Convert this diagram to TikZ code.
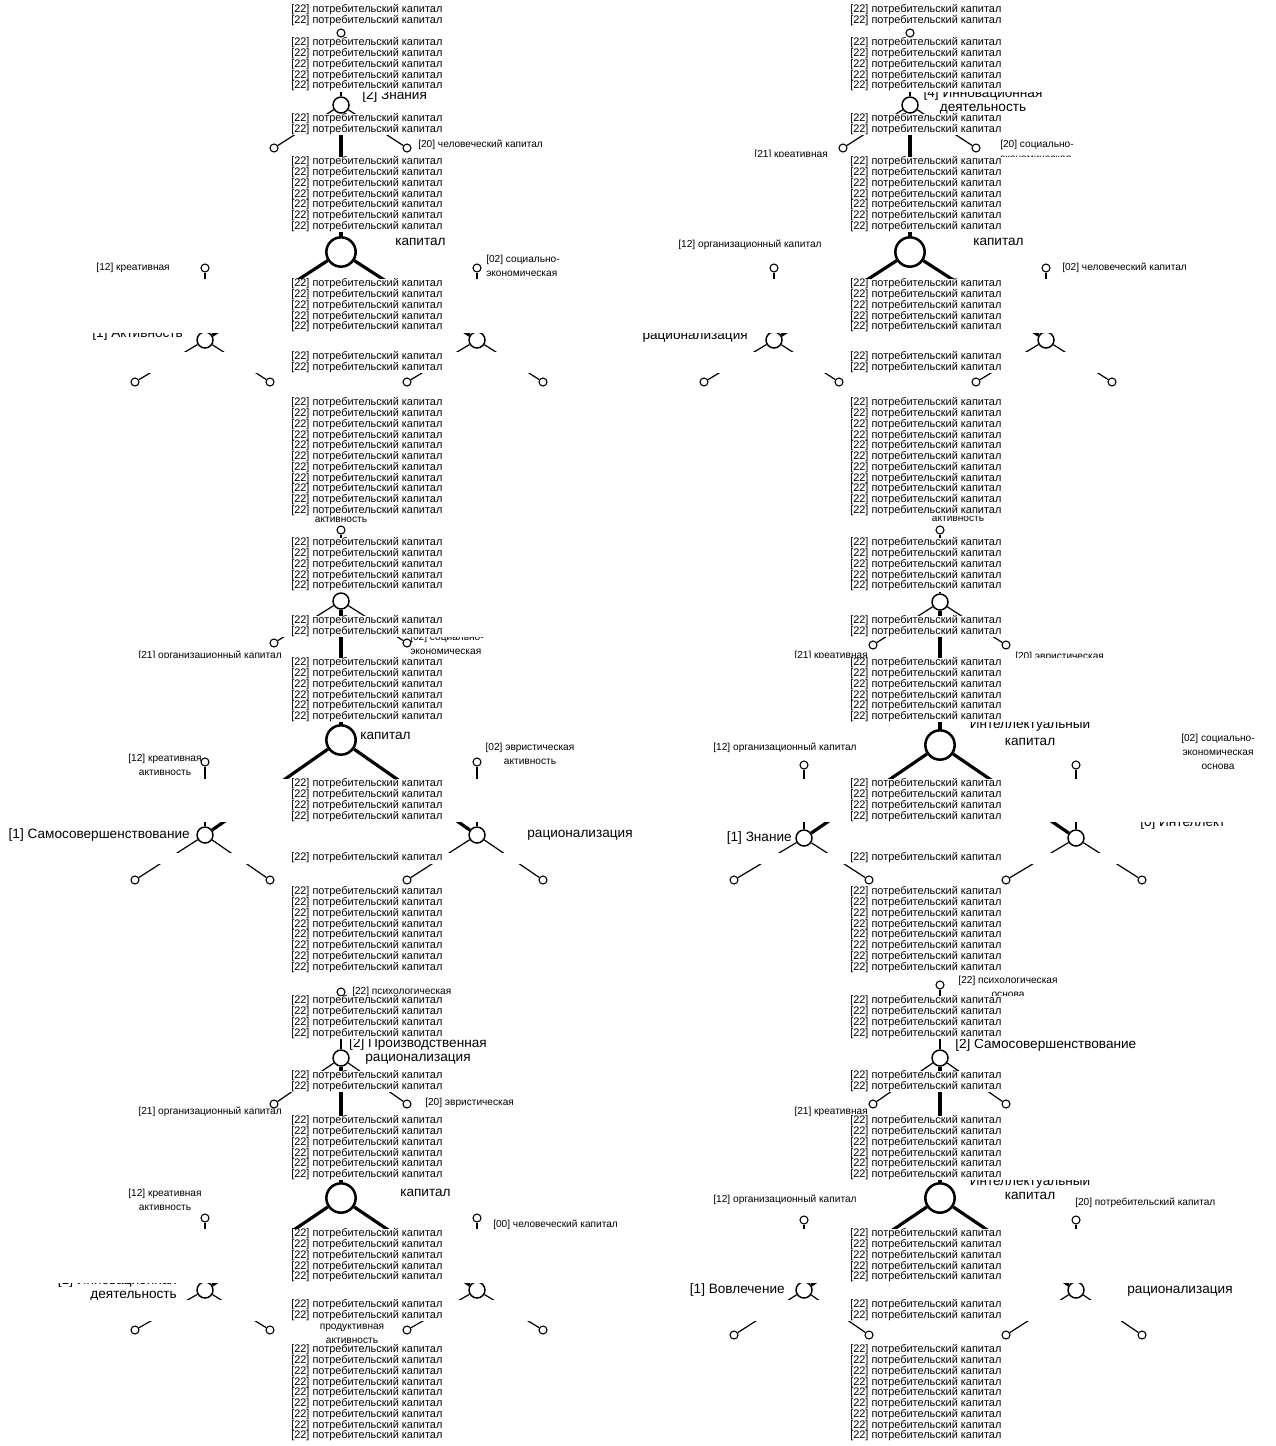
\documentclass[tikz,border=0pt]{standalone}
\usepackage{fontspec}
\setmainfont{Liberation Sans}
\newcommand\Lk{[22] потребительский капитал}
\tikzset{
 leafc/.style={circle,draw,fill=white,line width=0.8pt,minimum size=6pt,inner sep=0pt},
 midc/.style={circle,draw,fill=white,line width=1.1pt,minimum size=12pt,inner sep=0pt},
 bigc/.style={circle,draw,fill=white,line width=1.9pt,minimum size=22pt,inner sep=0pt},
 thinl/.style={line width=0.9pt},
 thickl/.style={line width=2.4pt},
 stk/.style={anchor=west,inner sep=0pt,font=\fontsize{8.2}{8}\selectfont},
 slab/.style={inner sep=0pt,font=\fontsize{7.6}{10.5}\selectfont},
 blab/.style={inner sep=0pt,font=\fontsize{10.2}{10.5}\selectfont},
 blabw/.style={inner sep=0pt,font=\fontsize{10.2}{12.8}\selectfont},
}
% #1 name, #2 cx, #3 yT, #4 yM, #5 yS, #6 yB, #7 yLol, #8 yN, #9 yLeaf
\newcommand\panel[9]{%
 \node[leafc] (#1T) at (#2,#3) {};
 \node[midc] (#1M) at (#2,#4) {};
 \node[leafc] (#1a) at ({#2-67},#5) {};
 \node[leafc] (#1b) at ({#2+66},#5) {};
 \node[bigc] (#1B) at (#2,#6) {};
 \node[leafc] (#1p) at ({#2-136},#7) {};
 \node[leafc] (#1q) at ({#2+136},#7) {};
 \node[midc] (#1N) at ({#2-136},#8) {};
 \node[midc] (#1O) at ({#2+136},#8) {};
 \node[leafc] (#1c) at ({#2-206},#9) {};
 \node[leafc] (#1d) at ({#2-71},#9) {};
 \node[leafc] (#1e) at ({#2+66},#9) {};
 \node[leafc] (#1f) at ({#2+202},#9) {};
 \draw[thinl] (#1T) -- (#1M);
 \draw[thinl] (#1M) -- (#1a);
 \draw[thinl] (#1M) -- (#1b);
 \draw[thickl] (#1M) -- (#1B);
 \draw[thickl] (#1B) -- (#1N);
 \draw[thickl] (#1B) -- (#1O);
 \draw[thinl] (#1p) -- (#1N);
 \draw[thinl] (#1q) -- (#1O);
 \draw[thinl] (#1N) -- (#1c);
 \draw[thinl] (#1N) -- (#1d);
 \draw[thinl] (#1O) -- (#1e);
 \draw[thinl] (#1O) -- (#1f);
}
\begin{document}
\begin{tikzpicture}[x=0.75pt,y=-0.75pt]
\useasboundingbox (0,0) rectangle (1276,1446);
\fill[white] (0,0) rectangle (1276,1446);
% skeletons
\panel{la}{341}{33}{105}{148}{252}{268}{340}{382}
\panel{lb}{341}{530}{601}{643}{740}{762}{835}{880}
\panel{lc}{341}{992}{1058}{1104}{1198}{1218}{1290}{1330}
\panel{ra}{910}{33}{105}{148}{252}{268}{340}{382}
\panel{rb}{940}{530}{602}{645}{745}{765}{838}{880}
\panel{rc}{940}{985}{1058}{1104}{1198}{1220}{1290}{1335}
% labels left column
\node[blab,anchor=west] (laML) at (362,96) {[2] Знания};
\node[slab,anchor=west] (labL) at (418,145) {[20] человеческий капитал};
\node[blab,anchor=west] (laBL) at (395,242) {капитал};
\node[slab,anchor=east] (lapL) at (170,268) {[12] креативная};
\node[slab,anchor=west,align=left] (laqL) at (486,266) {[02] социально-\\экономическая};
\node[blab,anchor=east] (laNL) at (183,334) {[1] Активность};
\node[slab] (lbTL) at (341,520) {активность};
\node[slab,anchor=east] (lbaL) at (282,656) {[21] организационный капитал};
\node[slab,anchor=west,align=left] (lbbL) at (410,644) {[02] социально-\\экономическая};
\node[blab,anchor=west] (lbBL) at (360,736) {капитал};
\node[slab,align=center] (lbpL) at (165,765) {[12] креативная\\активность};
\node[slab,align=center] (lbqL) at (530,754) {[02] эвристическая\\активность};
\node[blab,anchor=east] (lbNL) at (190,835) {[1] Самосовершенствование};
\node[blab] (lbOL) at (580,835) {рационализация};
\node[slab,anchor=west] (lcTL) at (352,992) {[22] психологическая};
\node[blab,align=center] (lcML) at (418,1051) {[2] Производственная\\рационализация};
\node[slab,anchor=east] (lcaL) at (282,1112) {[21] организационный капитал};
\node[slab,anchor=west] (lcbL) at (425,1103) {[20] эвристическая};
\node[blab,anchor=west] (lcBL) at (400,1193) {капитал};
\node[slab,align=center] (lcpL) at (165,1200) {[12] креативная\\активность};
\node[slab,anchor=west] (lcqL) at (493,1225) {[00] человеческий капитал};
\node[blab,anchor=east,align=right] (lcNL) at (177,1288) {[1] Инновационная\\деятельность};
\node[slab,align=center] (lcdL) at (352,1334) {продуктивная\\активность};
% labels right column
\node[blab,align=center] (raML) at (983,101) {[4] Инновационная\\деятельность};
\node[slab,anchor=east] (raaL) at (828,155) {[21] креативная};
\node[slab,anchor=west,align=left] (rabL) at (1000,151) {[20] социально-\\экономическая};
\node[blab,anchor=west] (raBL) at (973,242) {капитал};
\node[slab] (rapL) at (750,245) {[12] организационный капитал};
\node[slab,anchor=west] (raqL) at (1062,268) {[02] человеческий капитал};
\node[blab,anchor=east] (raNL) at (748,337) {рационализация};
\node[slab] (rbTL) at (958,519) {активность};
\node[slab,anchor=east] (rbaL) at (868,656) {[21] креативная};
\node[slab,anchor=west] (rbbL) at (1015,657) {[20] эвристическая};
\node[blabw,align=center] (rbBL) at (1030,732) {Интеллектуальный\\капитал};
\node[slab] (rbpL) at (785,748) {[12] организационный капитал};
\node[slab,align=center] (rbqL) at (1218,752) {[02] социально-\\экономическая\\основа};
\node[blab,anchor=east] (rbNL) at (792,838) {[1] Знание};
\node[blab,anchor=west] (rbOL) at (1140,823) {[0] Интеллект};
\node[slab,align=center] (rcTL) at (1008,987) {[22] психологическая\\основа};
\node[blab,anchor=west] (rcML) at (955,1045) {[2] Самосовершенствование};
\node[slab,anchor=east] (rcaL) at (868,1112) {[21] креативная};
\node[blab,align=center] (rcBL) at (1030,1188) {Интеллектуальный\\капитал};
\node[slab] (rcpL) at (785,1200) {[12] организационный капитал};
\node[slab,anchor=west] (rcqL) at (1075,1203) {[20] потребительский капитал};
\node[blab,anchor=east] (rcNL) at (785,1290) {[1] Вовлечение};
\node[blab] (rcOL) at (1180,1291) {рационализация};
% white bands and text stacks
\foreach \c/\n in {10/2,43/5,119/2,162/7,284/5,357/2,403/11,543/5,621/2,663/6,784/4,858/1,892/8,1001/4,1076/2,1121/6,1234/5,1305/2,1350/9}{
  \fill[white] (0,{\c-5.5}) rectangle (1276,{\c+(\n-1)*10.75+5.5});
  \foreach \k in {1,...,\n}{
    \node[stk] (sa-\c-\k) at (291,{\c+(\k-1)*10.75}) {\Lk};
    \node[stk] (sb-\c-\k) at (850,{\c+(\k-1)*10.75}) {\Lk};
  }
}
\end{tikzpicture}
\end{document}
